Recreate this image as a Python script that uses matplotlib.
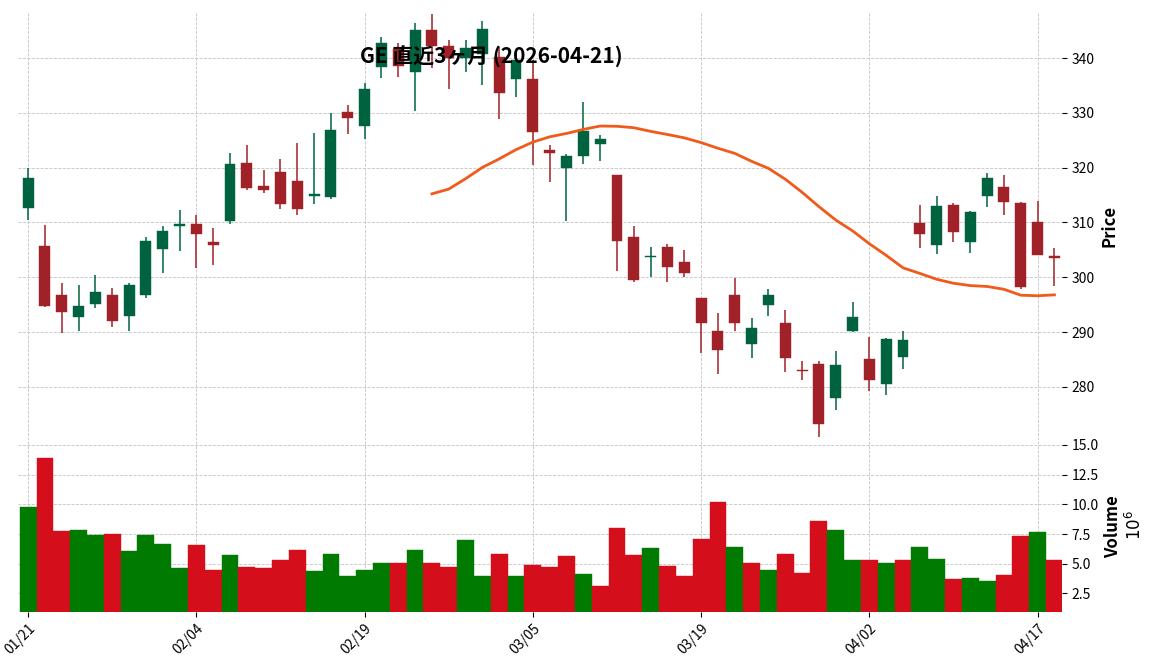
import numpy as np
import pandas as pd
import matplotlib
matplotlib.use("Agg")
import matplotlib.pyplot as plt

plt.rcParams['font.family'] = ['Noto Sans CJK JP', 'DejaVu Sans']

holidays = ["2026-02-16", "2026-04-03"]
dates = pd.bdate_range("2026-01-21", "2026-04-20")
dates = dates[~dates.isin(pd.to_datetime(holidays))]

opens = [312.7, 305.7, 296.8, 292.7, 295.2, 296.8, 293.0, 296.7, 305.2, 309.5,
         309.7, 306.4, 310.2, 320.8, 316.6, 319.2, 317.5, 315.0, 314.7, 330.1,
         327.6, 338.3, 341.7, 337.4, 345.2, 342.2, 340.0, 340.8, 340.2, 336.1,
         336.2, 323.3, 319.9, 322.1, 324.3, 318.7, 307.3, 303.8, 305.5, 302.8,
         296.2, 290.1, 296.8, 287.8, 295.0, 291.7, 283.1, 284.2, 278.0, 290.1,
         285.0, 280.5, 285.4, 309.9, 305.9, 313.2, 306.4, 314.8, 316.4, 313.5,
         310.1, 303.8]
highs = [320.0, 309.6, 298.9, 298.5, 300.4, 298.0, 298.9, 307.3, 309.3, 312.2,
         311.4, 308.9, 322.7, 324.2, 319.6, 321.5, 324.5, 326.4, 330.0, 331.4,
         335.5, 343.8, 342.7, 346.4, 348.0, 343.3, 343.2, 346.7, 342.0, 339.8,
         339.7, 324.1, 322.4, 332.0, 326.0, 318.7, 309.4, 305.6, 306.0, 304.9,
         296.2, 293.5, 299.8, 292.5, 297.8, 294.0, 284.8, 284.7, 286.6, 295.5,
         289.1, 288.9, 290.2, 313.1, 314.9, 313.5, 312.0, 319.1, 318.6, 313.8,
         314.0, 305.4]
lows = [310.4, 294.5, 289.9, 290.2, 294.4, 290.9, 290.2, 296.2, 300.7, 304.7,
        301.6, 302.2, 309.8, 316.0, 315.4, 312.4, 311.3, 313.3, 314.2, 326.2,
        325.2, 336.4, 336.5, 330.4, 338.2, 334.4, 337.4, 335.0, 328.8, 332.9,
        320.4, 317.3, 310.2, 320.7, 321.2, 301.2, 299.1, 300.1, 299.1, 300.1,
        286.2, 282.4, 290.2, 285.3, 293.0, 282.7, 281.2, 270.9, 275.8, 290.0,
        279.3, 278.5, 283.2, 305.3, 304.2, 306.4, 304.4, 312.9, 311.3, 297.8,
        304.1, 298.4]
closes = [318.2, 294.7, 293.6, 294.8, 297.3, 292.1, 298.6, 306.6, 308.4, 309.7,
          307.9, 305.9, 320.6, 316.3, 315.9, 313.4, 312.4, 315.1, 326.8, 329.0,
          334.4, 342.8, 338.5, 345.2, 342.2, 340.0, 341.8, 345.3, 333.6, 339.6,
          326.5, 322.6, 322.1, 326.7, 325.2, 306.7, 299.5, 303.9, 301.9, 300.8,
          291.6, 286.7, 291.6, 290.8, 296.7, 285.2, 283.0, 273.2, 283.9, 292.8,
          281.2, 288.8, 288.5, 307.9, 313.0, 308.3, 311.9, 318.1, 313.8, 298.3,
          304.1, 303.7]
volumes_m = [9.78, 13.94, 7.78, 7.86, 7.44, 7.53, 6.11, 7.44, 6.69, 4.61,
             6.61, 4.44, 5.78, 4.69, 4.61, 5.28, 6.19, 4.36, 5.86, 3.94,
             4.44, 5.03, 5.03, 6.19, 5.03, 4.69, 7.03, 3.94, 5.86, 3.94,
             4.86, 4.69, 5.69, 4.11, 3.14, 8.03, 5.78, 6.36, 4.78, 3.94,
             7.11, 10.19, 6.44, 5.03, 4.44, 5.86, 4.19, 8.61, 7.86, 5.28,
             5.28, 5.03, 5.28, 6.44, 5.44, 3.69, 3.78, 3.53, 4.03, 7.36,
             7.69, 5.28]
mav_period = 25
tick_idx = [0, 10, 20, 30, 40, 50, 60]
title = "GE 直近3ヶ月 (2026-04-21)"

UP, DOWN = '#006340', '#a02128'
VUP, VDOWN = '#007a00', '#d40f1b'

o = np.array(opens); h = np.array(highs); l = np.array(lows); c = np.array(closes)
v = np.array(volumes_m)
x = np.arange(len(c))

fig = plt.figure(figsize=(11.56, 6.70), dpi=100)
W, H = 1156, 670
axp = fig.add_axes([18/W, (H-440)/H, (1062-18)/W, (440-12)/H])
axv = fig.add_axes([18/W, (H-612)/H, (1062-18)/W, (612-441)/H], sharex=axp)

for ax in (axp, axv):
    for s in ax.spines.values():
        s.set_visible(False)
    ax.grid(True, linestyle='--', color='#c4c4c4', linewidth=0.6)
    ax.set_axisbelow(True)
    ax.yaxis.tick_right()
    ax.yaxis.set_label_position('right')

up = c >= o
cols = np.where(up, UP, DOWN)
axp.vlines(x, l, h, colors=cols, linewidth=1.1, zorder=2)
bw = 0.65
for xi, oi, ci, col in zip(x, o, c, cols):
    bottom = min(oi, ci)
    height = max(abs(ci - oi), 0.25)
    axp.bar(xi, height, bw, bottom=bottom if abs(ci-oi) > 0.25 else bottom - 0.12,
            color=col, edgecolor=col, linewidth=0.3, zorder=3)

ma = pd.Series(c).rolling(mav_period).mean()
axp.plot(x, ma, color='#f05a1a', linewidth=2, zorder=4)

axp.set_ylim(270.3, 348.4)
axp.set_yticks([280, 290, 300, 310, 320, 330, 340])
axp.set_ylabel('Price', fontsize=12, fontweight='bold', labelpad=4)
axp.tick_params(axis='x', which='both', labelbottom=False, length=0)
axp.tick_params(axis='y', labelsize=10)

prev = np.concatenate([[c[0]], c[:-1]])
vcols = np.where(c >= prev, VUP, VDOWN)
axv.bar(x, v, 1.0, color=vcols, edgecolor=vcols, linewidth=0.3, zorder=3)
axv.set_ylim(0.3 * v.min(), 1.1 * v.max())
axv.set_yticks([2.5, 5.0, 7.5, 10.0, 12.5, 15.0])
axv.set_yticklabels(['2.5', '5.0', '7.5', '10.0', '12.5', '15.0'])
axv.set_ylabel('Volume', fontsize=12, fontweight='bold', labelpad=4)
axv.tick_params(axis='y', labelsize=10)
fig.text(1135/W, (H-525)/H, r'$10^{6}$', rotation=90, fontsize=12, ha='center', va='center')

axv.set_xlim(-0.6, 61.45)
axv.set_xticks(tick_idx)
axv.set_xticklabels([dates[i].strftime('%m/%d') for i in tick_idx], rotation=45,
                    ha='right', rotation_mode='anchor', fontsize=10)

fig.text(491/W, (H-56)/H, title, ha='center', va='center', fontsize=15, fontweight='bold')

fig.savefig('out.png', dpi=100)
